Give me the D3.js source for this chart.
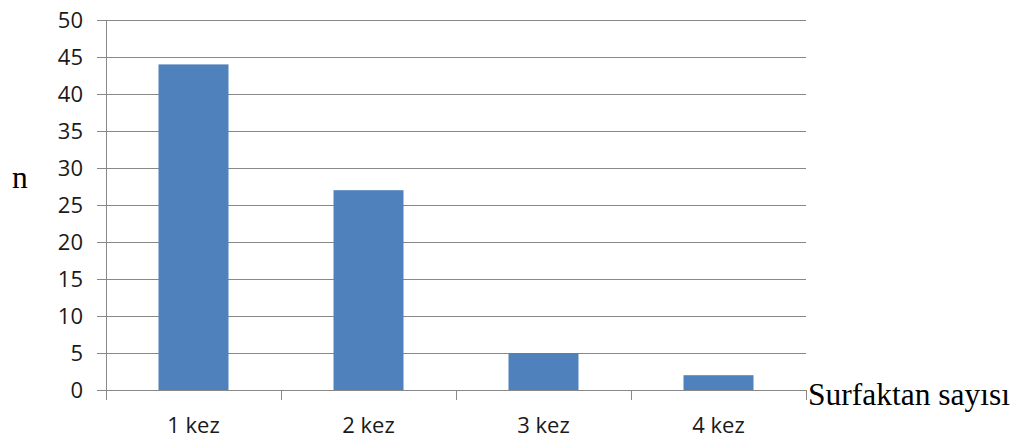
<!DOCTYPE html>
<html><head><meta charset="utf-8">
<script src="https://cdn.jsdelivr.net/npm/d3@7"></script>
<style>body{margin:0;background:#fff}</style>
</head><body>
<svg id="c" width="1023" height="442"></svg>
<script>
const categories = ["1 kez","2 kez","3 kez","4 kez"];
const values = [44, 27, 5, 2];
const yTicks = [0,5,10,15,20,25,30,35,40,45,50];

const svg = d3.select("#c");
const L = 106, R = 806, T = 20, B = 390;
const xb = d3.scaleBand().domain(categories).range([L, R]);
const y = d3.scaleLinear().domain([0, 50]).range([B, T]);
const grid = "#888888";
const sans = "Open Sans, Liberation Sans, sans-serif";

svg.append("g").selectAll("line").data(yTicks).join("line")
  .attr("x1", L - 9).attr("x2", R)
  .attr("y1", d => y(d) + 0.5).attr("y2", d => y(d) + 0.5)
  .attr("stroke", grid).attr("stroke-width", 1);
svg.append("line").attr("x1", L + 0.5).attr("x2", L + 0.5).attr("y1", T).attr("y2", B)
  .attr("stroke", grid);
svg.append("g").selectAll("text").data(yTicks).join("text")
  .attr("x", 83).attr("y", d => y(d)).attr("dy", "0.36em")
  .attr("text-anchor", "end").attr("font-family", sans)
  .attr("font-size", 22).attr("fill", "#1a1a1a").text(d => d);

svg.append("g").selectAll("rect").data(values).join("rect")
  .attr("x", (d, i) => xb(categories[i]) + xb.bandwidth() / 2 - 35)
  .attr("width", 70)
  .attr("y", d => y(d)).attr("height", d => B - y(d))
  .attr("fill", "#4F81BD");

const xt = categories.map(c => xb(c)).concat([R]);
svg.append("g").selectAll("line").data(xt).join("line")
  .attr("x1", d => Math.round(d) + 0.5).attr("x2", d => Math.round(d) + 0.5)
  .attr("y1", B).attr("y2", B + 10).attr("stroke", grid);
svg.append("g").selectAll("text").data(categories).join("text")
  .attr("x", d => xb(d) + xb.bandwidth() / 2).attr("y", 433)
  .attr("text-anchor", "middle").attr("font-family", sans)
  .attr("font-size", 22).attr("fill", "#1a1a1a").text(d => d);

svg.append("text").attr("x", 808).attr("y", 405)
  .attr("font-family", "Liberation Serif, serif").attr("font-size", 31.5).attr("fill", "#000")
  .text("Surfaktan sayısı");
svg.append("text").attr("x", 12).attr("y", 188)
  .attr("font-family", "Liberation Serif, serif").attr("font-size", 31.5).attr("fill", "#000")
  .text("n");
</script>
</body></html>
